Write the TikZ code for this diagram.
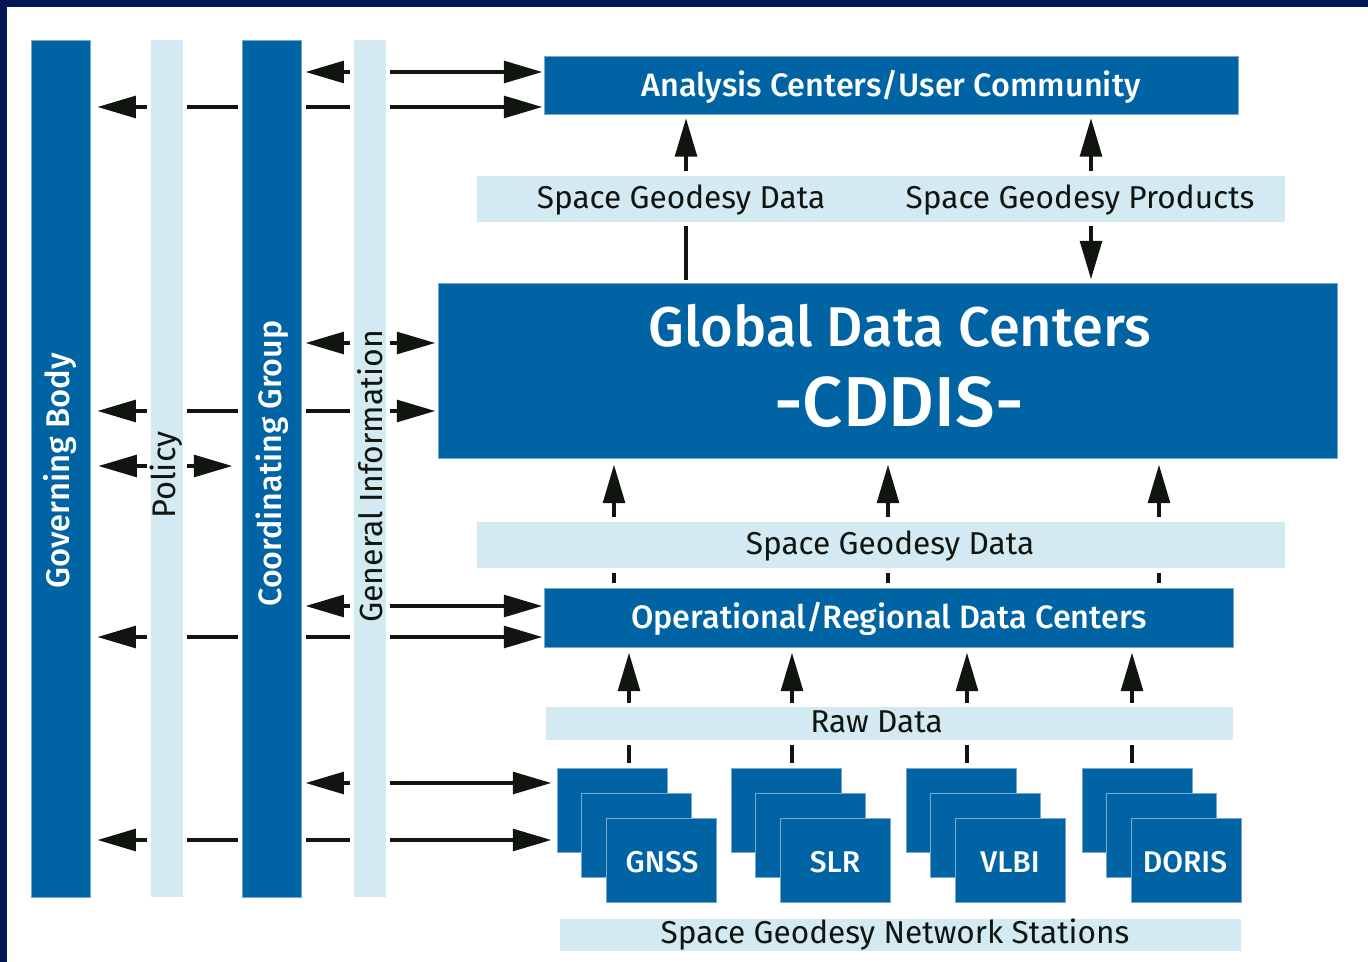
\documentclass[tikz,border=0pt]{standalone}
\usepackage{fontspec}
\setmainfont{Fira Sans}
\newfontfamily\medfont{Fira Sans Medium}
\usetikzlibrary{arrows.meta,fit}
\definecolor{dblue}{RGB}{0,100,164}
\definecolor{lblue}{RGB}{211,234,242}
\definecolor{navy}{RGB}{0,22,85}
\definecolor{ink}{RGB}{17,21,15}
\pgfdeclarelayer{bottom}
\pgfdeclarelayer{back}
\pgfsetlayers{bottom,back,main}
\begin{document}
\begin{tikzpicture}[x=0.75pt,y=-0.75pt,
  dbox/.style={fill=dblue, draw=dblue!55!white, line width=0.6pt, inner sep=0pt},
  lbox/.style={fill=lblue, inner sep=0pt},
  occl/.style={preaction={draw=white,line width=6.75pt}},
  tip/.tip={Triangle[length=29pt,width=16pt]},
  arr/.style={draw=ink, line width=3.5pt, -tip},
  dbl/.style={draw=ink, line width=3.5pt, tip-tip},
  wtext/.style={text=white, font=\medfont\fontsize{24.3}{24.3}\selectfont, inner sep=0pt, anchor=base},
  ktext/.style={text=ink, font=\fontsize{23.7}{23.7}\selectfont, inner sep=0pt, anchor=base},
  stext/.style={wtext, font=\medfont\fontsize{22.5}{22.5}\selectfont}]
\useasboundingbox (0,0) rectangle (1368,962);
\begin{pgfonlayer}{bottom}
  \fill[white] (0,0) rectangle (1368,962);
  \fill[navy] (0,0) rectangle (1368,7);
  \fill[navy] (0,0) rectangle (7,962);
\end{pgfonlayer}
% vertical bars
\node[dbox, fit={(31,40)(90.5,897)}] (gov) {};
\node[lbox, occl, fit={(151,40)(182.5,897)}] (pol) {};
\node[dbox, occl, fit={(242,40)(301.5,897)}] (cg) {};
\node[lbox, occl, fit={(354,40)(385.5,897)}] (gi) {};
% main boxes
\node[dbox, fit={(544,56)(1238.5,114.5)}] (ana) {};
\node[lbox, occl, fit={(477,176)(1285,222)}] (sgdp) {};
\node[dbox, fit={(438,283)(1337,458)}] (gdc) {};
\node[lbox, occl, fit={(477,522)(1285,568)}] (sgd) {};
\node[dbox, fit={(544,588)(1233.5,647)}] (ord) {};
\node[lbox, occl, fit={(546,707)(1232.5,740)}] (raw) {};
% stations
\node[dbox, fit={(557,768)(667,852)}] (gnssA) {};
\node[dbox, fit={(581.5,793)(691.5,877)}] (gnssB) {};
\node[dbox, fit={(606.5,818)(716.5,902.5)}] (gnssC) {};
\node[dbox, fit={(731,768)(841,852)}] (slrA) {};
\node[dbox, fit={(755.5,793)(865.5,877)}] (slrB) {};
\node[dbox, fit={(780.5,818)(890.5,902.5)}] (slrC) {};
\node[dbox, fit={(906,768)(1016,852)}] (vlbiA) {};
\node[dbox, fit={(930.5,793)(1040.5,877)}] (vlbiB) {};
\node[dbox, fit={(955.5,818)(1065.5,902.5)}] (vlbiC) {};
\node[dbox, fit={(1082,768)(1192,852)}] (dorA) {};
\node[dbox, fit={(1106.5,793)(1216.5,877)}] (dorB) {};
\node[dbox, fit={(1131.5,818)(1241.5,902.5)}] (dorC) {};
\node[lbox, fit={(560,919)(1241,951)}] (net) {};
% texts
\node[wtext, rotate=90, anchor=center, font=\medfont\fontsize{24.6}{24.6}\selectfont] at (60.5,471) {Governing Body};
\node[ktext, rotate=90, anchor=center, font=\fontsize{24.5}{24.5}\selectfont] at (166.5,475) {Policy};
\node[wtext, rotate=90, anchor=center, font=\medfont\fontsize{24.2}{24.2}\selectfont] at (272,463.5) {Coordinating Group};
\node[ktext, rotate=90, anchor=center, font=\fontsize{24}{24}\selectfont] at (370,476.5) {General Information};
\node[wtext] at (891,97) {Analysis Centers/User Community};
\node[ktext] at (681,209) {Space Geodesy Data};
\node[ktext] at (1080,209) {Space Geodesy Products};
\node[wtext, font=\medfont\fontsize{42}{42}\selectfont] at (900,347) {Global Data Centers};
\node[wtext, font=\medfont\fontsize{53}{53}\selectfont] at (899,427) {-CDDIS-};
\node[ktext] at (890,554) {Space Geodesy Data};
\node[wtext] at (889,628) {Operational/Regional Data Centers};
\node[ktext] at (876.5,732) {Raw Data};
\node[stext] at (662,872) {GNSS};
\node[stext] at (835,872) {SLR};
\node[stext] at (1010,872) {VLBI};
\node[stext] at (1185,872) {DORIS};
\node[ktext] at (895,943) {Space Geodesy Network Stations};
% row / column coordinates
\foreach \r in {72,107,343,411,466,606,637,783,840} {\coordinate (r\r) at (0,\r);}
\foreach \c in {614,629,686,792,888,967,1091,1132,1159} {\coordinate (c\c) at (\c,0);}
\begin{pgfonlayer}{back}
  % horizontal flows
  \draw[dbl, shorten <=2.5pt, shorten >=0.75pt] (cg.east |- r72) -- (ana.west |- r72);
  \draw[dbl, shorten <=4.7pt, shorten >=0.75pt] (gov.east |- r107) -- (ana.west |- r107);
  \draw[dbl, shorten <=2.5pt, shorten >=1.5pt] (cg.east |- r343) -- (gdc.west |- r343);
  \draw[dbl, shorten <=4.7pt, shorten >=1.5pt] (gov.east |- r411) -- (gdc.west |- r411);
  \draw[dbl, shorten <=5.4pt, shorten >=6.75pt] (gov.east |- r466) -- (cg.west |- r466);
  \draw[dbl, shorten <=2.5pt, shorten >=0.75pt] (cg.east |- r606) -- (ord.west |- r606);
  \draw[dbl, shorten <=4.7pt, shorten >=0.75pt] (gov.east |- r637) -- (ord.west |- r637);
  \draw[dbl, shorten <=2.5pt, shorten >=3.75pt] (cg.east |- r783) -- (gnssA.west |- r783);
  \draw[dbl, shorten <=4.7pt, shorten >=3.75pt] (gov.east |- r840) -- (gnssA.west |- r840);
  % vertical flows
  \draw[arr, shorten <=2.25pt, shorten >=2.25pt] (gdc.north -| c686) -- (ana.south -| c686);
  \draw[dbl, shorten <=2.25pt, shorten >=2.25pt] (ana.south -| c1091) -- (gdc.north -| c1091);
  \foreach \c in {614,888,1159}
    \draw[arr, shorten <=3.75pt, shorten >=4.5pt] (ord.north -| c\c) -- (gdc.south -| c\c);
  \draw[arr, shorten <=3.75pt, shorten >=3.75pt] (gnssA.north -| c629) -- (ord.south -| c629);
  \draw[arr, shorten <=3.75pt, shorten >=3.75pt] (slrA.north -| c792) -- (ord.south -| c792);
  \draw[arr, shorten <=3.75pt, shorten >=3.75pt] (vlbiA.north -| c967) -- (ord.south -| c967);
  \draw[arr, shorten <=3.75pt, shorten >=3.75pt] (dorA.north -| c1132) -- (ord.south -| c1132);
\end{pgfonlayer}
\end{tikzpicture}
\end{document}
